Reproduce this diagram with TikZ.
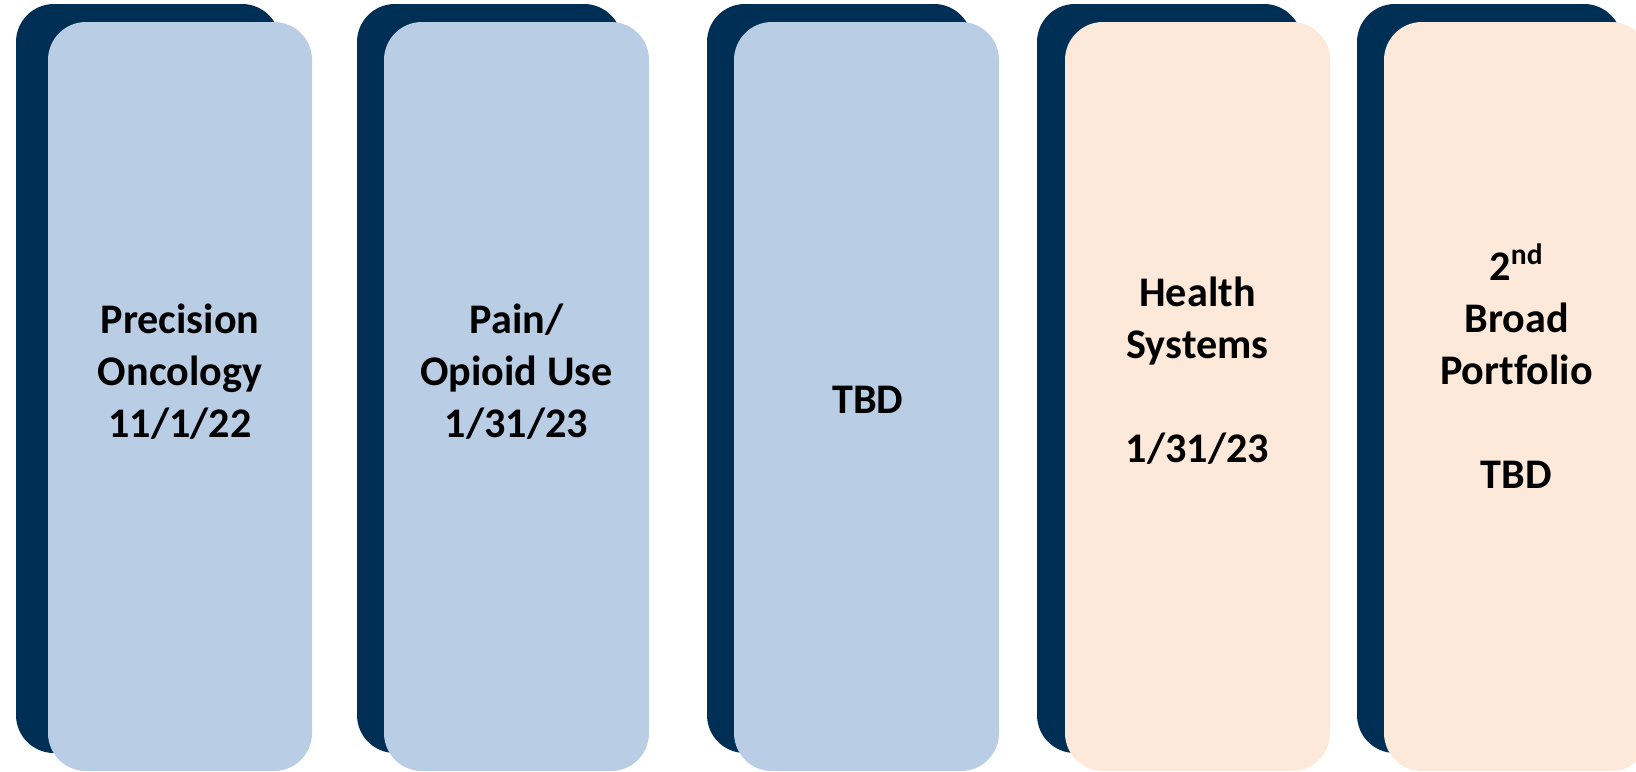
\documentclass[tikz,border=0pt]{standalone}
\usepackage{fontspec}
\setmainfont{Carlito}[Ligatures=CommonOff]
\usepackage{tikz}

\definecolor{navy}{HTML}{002F56}
\definecolor{paleblue}{HTML}{B9CDE5}
\definecolor{peach}{HTML}{FCE9DA}

\tikzset{
  backtab/.style={fill=navy, rounded corners=0.76cm},
  bluetab/.style={fill=paleblue, rounded corners=0.76cm},
  peachtab/.style={fill=peach, rounded corners=0.76cm},
  tabtext/.style={font=\bfseries\fontsize{24}{29.5}\selectfont, align=center, anchor=base, inner sep=0pt}
}

\begin{document}
\begin{tikzpicture}[x=0.02cm, y=-0.02cm]
\useasboundingbox (0, 0) rectangle (1636, 771);
\clip (0, 0) rectangle (1636, 771);
\fill[white] (0, 0) rectangle (1636, 771);
% Precision Oncology
\fill[backtab] (16, 4) rectangle (280, 753);
\fill[bluetab] (48, 22) rectangle (312, 771);
\node[tabtext] (onco) at (180, 437) {Precision\\Oncology\\11/1/22};
% Pain / Opioid Use
\fill[backtab] (357, 4) rectangle (622, 753);
\fill[bluetab] (384, 22) rectangle (649, 771);
\node[tabtext] (pain) at (516.5, 437) {Pain/\\Opioid Use\\1/31/23};
% TBD
\fill[backtab] (707, 4) rectangle (972, 753);
\fill[bluetab] (734, 22) rectangle (999, 771);
\node[tabtext] (tbd) at (868, 413) {TBD};
% Health Systems
\fill[backtab] (1037, 4) rectangle (1302, 753);
\fill[peachtab] (1065, 22) rectangle (1330, 771);
\node[tabtext] (health) at (1197.5, 462) {Health\\Systems\\[29.5pt]1/31/23};
% 2nd Broad Portfolio
\fill[backtab] (1357, 4) rectangle (1622, 753);
\fill[peachtab] (1384, 22) rectangle (1649, 771);
\node[tabtext] (broad) at (1516.5, 488) {2\textsuperscript{nd}\\Broad\\Portfolio\\[29.5pt]TBD};
\end{tikzpicture}
\end{document}
